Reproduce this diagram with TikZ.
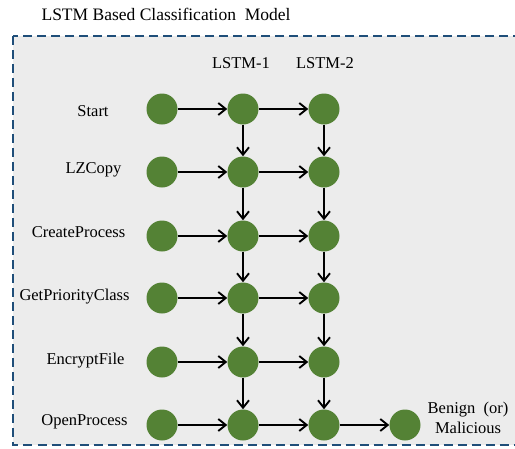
\documentclass[tikz,border=0pt]{standalone}
\usepackage{fontspec}
\setmainfont{Liberation Serif}
\usetikzlibrary{arrows.meta}
\definecolor{cgreen}{HTML}{548235}
\definecolor{cbox}{HTML}{1F4E79}
\definecolor{cfill}{HTML}{ECECEC}
\begin{document}
\begin{tikzpicture}[x=1pt,y=-1pt,
  cell/.style={circle,fill=cgreen,minimum size=31pt,inner sep=0pt},
  lbl/.style={font=\fontsize{16.5}{20}\selectfont,inner sep=0pt,anchor=base},
  conn/.style={-{Straight Barb[length=7.5pt,width=12pt,line width=1.9pt]},line width=2.1pt,black}]
\useasboundingbox (0,0) rectangle (515,448);
\clip (0,0) rectangle (515,448);
\draw[cbox,fill=cfill,line width=2pt,dash pattern=on 9pt off 5pt] (12.5,36) rectangle (530,445);
\node[lbl,font=\fontsize{17.5}{20}\selectfont] (title) at (166,20) {LSTM Based Classification\ \ Model};
\node[lbl] (h1) at (241,68) {LSTM-1};
\node[lbl] (h2) at (325,68) {LSTM-2};
\foreach \r/\y/\t/\lx/\by in {1/109/Start/93/116,2/172/LZCopy/93.5/173,3/236/CreateProcess/78.5/237,4/298/GetPriorityClass/74.5/300,5/362/EncryptFile/85.5/364,6/425/OpenProcess/84.5/425}{
  \node[lbl] (l\r) at (\lx,\by) {\t};
  \node[cell] (a\r) at (162,\y) {};
  \node[cell] (b\r) at (243,\y) {};
  \node[cell] (c\r) at (324,\y) {};
  \draw[conn] (a\r) -- (b\r);
  \draw[conn] (b\r) -- (c\r);
}
\foreach \r/\s in {1/2,2/3,3/4,4/5,5/6}{
  \draw[conn] (b\r) -- (b\s);
  \draw[conn] (c\r) -- (c\s);
}
\node[cell] (out) at (405,425) {};
\draw[conn] (c6) -- (out);
\node[lbl] (res1) at (468,413) {Benign\ \ (or)};
\node[lbl] (res2) at (468,433) {Malicious};
\end{tikzpicture}
\end{document}
